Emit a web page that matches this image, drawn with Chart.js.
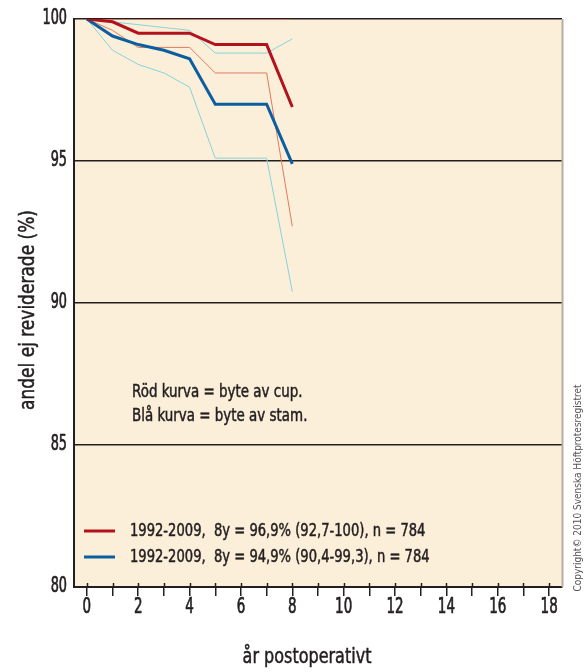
<!DOCTYPE html>
<html>
<head>
<meta charset="utf-8">
<script src="https://cdn.jsdelivr.net/npm/chart.js@4.4.0/dist/chart.umd.min.js"></script>
<style>
  html, body { margin: 0; padding: 0; background: #fff; }
  #wrap { width: 586px; height: 672px; }
</style>
</head>
<body>
<div id="wrap"><canvas id="survChart" width="586" height="672"></canvas></div>
<script>
// --- Data ---
const years = [0, 1, 2, 3, 4, 5, 6, 7, 8];
const cupSurv = [100, 99.9, 99.5, 99.5, 99.5, 99.1, 99.1, 99.1, 96.9];
const cupLower = [100, 99.6, 99.0, 99.0, 99.0, 98.1, 98.1, 98.1, 92.7];
const cupUpper = [100, 100, 100, 100, 100, 100, 100, 100, 100];
const stemSurv = [100, 99.4, 99.1, 98.9, 98.6, 97.0, 97.0, 97.0, 94.9];
const stemLower = [100, 98.9, 98.4, 98.1, 97.6, 95.1, 95.1, 95.1, 90.4];
const stemUpper = [100, 99.9, 99.8, 99.7, 99.6, 98.8, 98.8, 98.8, 99.3];
const yTicks = [80, 85, 90, 95, 100];
const legendLabels = [
    '1992-2009,  8y = 96,9% (92,7-100), n = 784',
    '1992-2009,  8y = 94,9% (90,4-99,3), n = 784'
];
const noteLines = ['Röd kurva = byte av cup.', 'Blå kurva = byte av stam.'];

const FONT = '"DejaVu Sans Condensed", "DejaVu Sans", sans-serif';
const INK = '#231f20';
const RED = '#b3121c';
const BLUE = '#0b5fa0';
const RED_CI = '#e07a5f';
const BLUE_CI = '#86d3da';

const toPoints = (vals) => vals.map((v, i) => ({ x: years[i], y: v }));

const line = (label, vals, color, width, order) => ({
    label, data: toPoints(vals), borderColor: color, borderWidth: width,
    pointRadius: 0, fill: false, tension: 0, order
});

// draw horizontally squeezed, slightly heavier text (the original uses a condensed medium face)
const squeezed = (ctx, text, x, y, sx, rot = 0, weight = 0.5) => {
    ctx.save();
    ctx.translate(x, y);
    if (rot) ctx.rotate(rot);
    ctx.scale(sx, 1);
    ctx.fillText(text, 0, 0);
    if (weight) {
        ctx.strokeStyle = ctx.fillStyle;
        ctx.lineWidth = weight;
        ctx.strokeText(text, 0, 0);
    }
    ctx.restore();
};

// --- Plugin: background, frame, tick labels, notes, legend, titles ---
const decorations = {
    id: 'decorations',
    beforeDraw(chart) {
        const { ctx, chartArea: a } = chart;
        ctx.save();
        ctx.fillStyle = '#fcefd9';
        ctx.fillRect(a.left, a.top, a.right - a.left, a.bottom - a.top);
        ctx.restore();
    },
    afterDraw(chart) {
        const { ctx, chartArea: a, scales } = chart;
        ctx.save();
        // right shadow edge
        ctx.strokeStyle = '#b5ad9f';
        ctx.lineWidth = 2;
        ctx.beginPath();
        ctx.moveTo(a.right + 0.5, a.top);
        ctx.lineTo(a.right + 0.5, a.bottom);
        ctx.stroke();
        // tick stubs above x axis
        ctx.strokeStyle = INK;
        ctx.lineWidth = 1.5;
        scales.x.ticks.forEach(t => {
            const px = Math.round(scales.x.getPixelForValue(t.value)) + 0.5;
            ctx.beginPath();
            ctx.moveTo(px, a.bottom - 4);
            ctx.lineTo(px, a.bottom);
            ctx.stroke();
        });

        ctx.fillStyle = INK;
        ctx.textBaseline = 'middle';

        // tick labels
        ctx.font = '22px ' + FONT;
        ctx.textAlign = 'center';
        scales.x.ticks.forEach(t => {
            if (t.value % 2 !== 0) return;
            squeezed(ctx, String(t.value), scales.x.getPixelForValue(t.value), 607, 0.68, 0, 0.7);
        });
        ctx.font = '21px ' + FONT;
        ctx.textAlign = 'right';
        scales.y.ticks.forEach(t => {
            squeezed(ctx, String(t.value), 67, scales.y.getPixelForValue(t.value), 0.68, 0, 0.7);
        });

        ctx.textAlign = 'left';
        ctx.font = '18px ' + FONT;
        noteLines.forEach((s, i) => squeezed(ctx, s, 132, 392 + i * 24, 0.83));

        const legendColors = [RED, BLUE];
        legendLabels.forEach((s, i) => {
            const y = 531 + i * 26;
            ctx.strokeStyle = legendColors[i];
            ctx.lineWidth = 3;
            ctx.beginPath();
            ctx.moveTo(84, y);
            ctx.lineTo(115, y);
            ctx.stroke();
            squeezed(ctx, s, 130, y, 0.81);
        });

        // axis titles
        ctx.textAlign = 'center';
        ctx.font = '22px ' + FONT;
        squeezed(ctx, 'år postoperativt', 307, 657, 0.81);
        squeezed(ctx, 'andel ej reviderade (%)', 28, 310, 0.86, -Math.PI / 2);

        ctx.fillStyle = '#555';
        ctx.font = '10px ' + FONT;
        squeezed(ctx, 'Copyright© 2010 Svenska Höftprotesregistret', 578, 488, 1.0, -Math.PI / 2, 0);
        ctx.restore();
    }
};

document.addEventListener('DOMContentLoaded', () => {
    const ctx = document.getElementById('survChart').getContext('2d');
    new Chart(ctx, {
        type: 'line',
        data: {
            datasets: [
                line('cup', cupSurv, RED, 3, 1),
                line('stam', stemSurv, BLUE, 3, 2),
                line('cup lower', cupLower, RED_CI, 1, 3),
                line('cup upper', cupUpper, RED_CI, 1, 3),
                line('stam lower', stemLower, BLUE_CI, 1, 4),
                line('stam upper', stemUpper, BLUE_CI, 1, 4)
            ]
        },
        options: {
            responsive: false,
            animation: false,
            layout: { padding: { top: 19, right: 24, left: 0, bottom: 0 } },
            plugins: { legend: { display: false }, tooltip: { enabled: false } },
            scales: {
                x: {
                    type: 'linear',
                    min: -0.5,
                    max: 18.5,
                    afterBuildTicks: (s) => { s.ticks = Array.from({ length: 19 }, (_, i) => ({ value: i })); },
                    afterFit: (s) => { s.height = 85; },
                    border: { color: INK, width: 2 },
                    grid: { drawOnChartArea: false, color: INK, lineWidth: 1.5, tickLength: 9 },
                    ticks: {
                        color: 'transparent',
                        font: { family: FONT, size: 21 },
                        padding: 0,
                        maxRotation: 0,
                        autoSkip: false
                    }
                },
                y: {
                    min: 80,
                    max: 100,
                    afterBuildTicks: (s) => { s.ticks = yTicks.map(v => ({ value: v })); },
                    afterFit: (s) => { s.width = 74; },
                    border: { color: INK, width: 2 },
                    grid: { color: INK, lineWidth: 1.5, drawTicks: false },
                    ticks: {
                        color: 'transparent',
                        font: { family: FONT, size: 20 },
                        padding: 7
                    }
                }
            }
        },
        plugins: [decorations]
    });
});
</script>
</body>
</html>
